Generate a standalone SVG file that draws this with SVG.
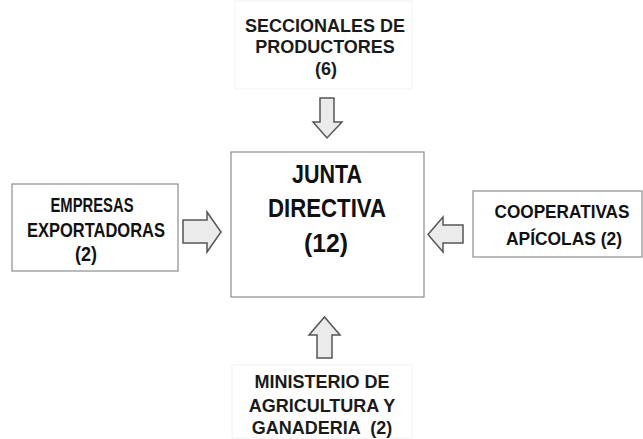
<svg xmlns="http://www.w3.org/2000/svg" width="643" height="439" viewBox="0 0 643 439">
<style>
.box{fill:#fff;stroke:#8c8c8c;stroke-width:1.2}
.faint{fill:#fff;stroke:#f2f2f2;stroke-width:1}
.arr{fill:#ebebeb;stroke:#555;stroke-width:1.5;stroke-linejoin:miter}
.g{font-family:"Liberation Sans",Arial,sans-serif;font-weight:bold;fill:#111;text-anchor:middle}
.a{font-family:"Liberation Sans",Arial,sans-serif;font-weight:bold;fill:#1a1a1a;text-anchor:middle;font-size:18px}
</style>
<rect width="643" height="439" fill="#fff"/>
<g id="seccionales">
<rect class="faint" x="235" y="1" width="177" height="88"/>
<text class="a" x="325" y="32">SECCIONALES DE</text>
<text class="a" x="325" y="53">PRODUCTORES</text>
<text class="a" x="326" y="75">(6)</text>
</g>
<g id="junta">
<rect class="box" x="231" y="152" width="193" height="145"/>
<text class="g" font-size="25" x="327" y="183" textLength="70" lengthAdjust="spacingAndGlyphs">JUNTA</text>
<text class="g" font-size="25" x="327" y="217" textLength="118" lengthAdjust="spacingAndGlyphs">DIRECTIVA</text>
<text class="g" font-size="25" x="326" y="252" textLength="44" lengthAdjust="spacingAndGlyphs">(12)</text>
</g>
<g id="empresas">
<rect class="box" x="12" y="184" width="166" height="87"/>
<text class="g" font-size="20" x="92" y="212" textLength="83" lengthAdjust="spacingAndGlyphs">EMPRESAS</text>
<text class="g" font-size="20" x="96" y="237" textLength="138" lengthAdjust="spacingAndGlyphs">EXPORTADORAS</text>
<text class="g" font-size="20" x="86" y="261" textLength="22" lengthAdjust="spacingAndGlyphs">(2)</text>
</g>
<g id="cooperativas">
<rect class="box" x="473" y="191" width="169" height="66"/>
<text class="g" font-size="18" x="562" y="218" textLength="135" lengthAdjust="spacingAndGlyphs">COOPERATIVAS</text>
<text class="g" font-size="18" x="564" y="245" textLength="116" lengthAdjust="spacingAndGlyphs">APÍCOLAS (2)</text>
</g>
<g id="ministerio">
<rect class="faint" x="232" y="365" width="180" height="73"/>
<text class="a" x="322" y="388">MINISTERIO DE</text>
<text class="a" x="322" y="412">AGRICULTURA Y</text>
<text class="a" x="322" y="434" xml:space="preserve">GANADERIA  (2)</text>
</g>
<g id="connectors">
<polygon class="arr" points="320,98 334,98 334,122 342,122 327,138 313,122 320,122"/>
<polygon class="arr" points="317,358 332,358 332,335 340,335 324.5,317 309,335 317,335"/>
<polygon class="arr" points="183,220 207,220 207,212 221,232 207,252 207,243 183,243"/>
<polygon class="arr" points="463,225 443,225 443,217 428,234.5 443,252 443,243 463,243"/>
</g>
</svg>
